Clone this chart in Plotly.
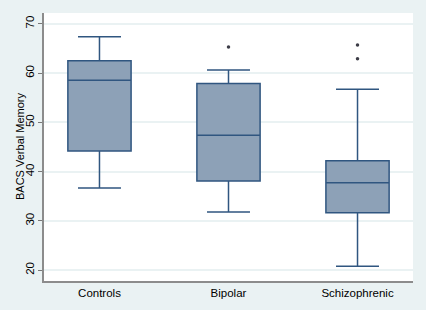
import plotly.graph_objects as go

groups = ["Controls", "Bipolar", "Schizophrenic"]
lower_whisker = [36.7, 31.8, 20.8]
q1 = [44.2, 38.1, 31.65]
median = [58.55, 47.4, 37.75]
q3 = [62.5, 57.9, 42.2]
upper_whisker = [67.4, 60.65, 56.7]

outlier_groups = ["Bipolar", "Schizophrenic", "Schizophrenic"]
outlier_values = [65.3, 65.7, 62.9]

y_ticks = [20, 30, 40, 50, 60, 70]

fill_color = "rgb(141,161,183)"
line_color = "rgb(48,86,128)"
bg_color = "rgb(234,242,243)"

fig = go.Figure()
fig.add_trace(go.Box(
    x=groups,
    q1=q1, median=median, q3=q3,
    lowerfence=lower_whisker, upperfence=upper_whisker,
    fillcolor=fill_color,
    line=dict(color=line_color, width=1.5),
    width=0.49,
    whiskerwidth=0.68,
    boxpoints=False,
    hoverinfo="skip",
    showlegend=False,
))
fig.add_trace(go.Scatter(
    x=outlier_groups, y=outlier_values,
    mode="markers",
    marker=dict(symbol="circle", size=3.5, color="rgb(60,60,70)"),
    showlegend=False,
    hoverinfo="skip",
))

fig.update_layout(
    width=426, height=310,
    margin=dict(l=44, r=13, t=13, b=29),
    paper_bgcolor=bg_color,
    plot_bgcolor="white",
    font=dict(family="Liberation Sans, Arial, sans-serif", size=11, color="black"),
)
fig.add_annotation(
    text="BACS Verbal Memory",
    xref="paper", yref="paper", x=0, y=0.5,
    xanchor="center", yanchor="middle",
    xshift=-24, textangle=-90, showarrow=False,
    font=dict(size=11),
)
fig.update_xaxes(
    type="category",
    range=[-0.43, 2.43],
    showgrid=False,
    showline=True, linecolor="rgb(140,140,140)", linewidth=1.5,
    ticks="", tickfont=dict(size=11.5),
    automargin=False,
)
fig.update_yaxes(
    range=[17.8, 72.2],
    tickvals=y_ticks,
    tickangle=-90,
    ticks="outside", ticklen=4, tickcolor="rgb(120,120,120)",
    showline=True, linecolor="rgb(140,140,140)", linewidth=1.5,
    showgrid=True, gridcolor=bg_color, gridwidth=1.5,
    zeroline=False,
    tickfont=dict(size=11.5),
    automargin=False,
)

fig.write_html("out.html", config={"displayModeBar": False},
               post_script="document.body.style.margin='0';")
